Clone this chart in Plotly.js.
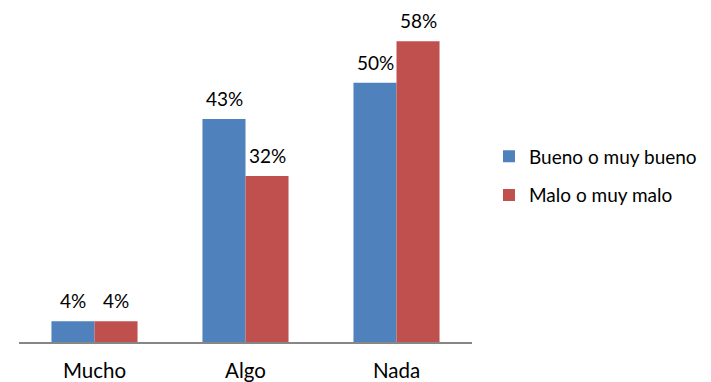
<!DOCTYPE html>
<html>
<head>
<meta charset="utf-8">
<script src="https://cdn.plot.ly/plotly-3.0.1.min.js"></script>
<style>html,body{margin:0;padding:0;background:#fff;}#chart{width:711px;height:382px;}</style>
</head>
<body>
<div id="chart"></div>
<script>
const categories = ["Mucho", "Algo", "Nada"];
const seriesNames = ["Bueno o muy bueno", "Malo o muy malo"];
const bueno = [4, 43, 50];
const malo = [4, 32, 58];
const colors = ["#4F81BD", "#C0504D"];
const FONT = "Lato, 'Open Sans', sans-serif";

const traces = [bueno, malo].map((vals, i) => ({
  type: "bar",
  x: categories,
  y: vals,
  name: seriesNames[i],
  marker: {color: colors[i]},
  legendgroup: "g" + i,
  hoverinfo: "none"
}));

const annotations = [];
[bueno, malo].forEach((vals, i) => {
  vals.forEach((v, j) => {
    annotations.push({
      x: categories[j], y: v, xref: "x", yref: "y",
      text: v + "%", showarrow: false,
      xanchor: "center", yanchor: "bottom",
      xshift: i === 0 ? -21.5 : 21.5, yshift: 7,
      font: {family: FONT, size: 19, color: "#000"}
    });
  });
});

const layout = {
  width: 711, height: 382,
  margin: {l: 19, r: 239, t: 10, b: 40, autoexpand: false},
  paper_bgcolor: "#fff", plot_bgcolor: "#fff",
  barmode: "group", bargap: 0.43, bargroupgap: 0,
  font: {family: FONT, size: 19, color: "#000"},
  xaxis: {
    showgrid: false, zeroline: false, showline: true,
    linecolor: "#868686", linewidth: 1.5, ticks: "",
    ticklabelstandoff: 10, automargin: false,
    tickfont: {family: FONT, size: 20.5, color: "#000"}
  },
  yaxis: {
    range: [0, 64], visible: false, showgrid: false, zeroline: false
  },
  showlegend: true,
  legend: {
    x: 1.0375, xanchor: "left", y: 0.5, yanchor: "middle",
    font: {family: FONT, size: 19, color: "#000"},
    traceorder: "grouped", tracegroupgap: 11,
    itemwidth: 30
  },
  annotations: annotations
};

Plotly.newPlot("chart", traces, layout, {displayModeBar: false, staticPlot: true});
</script>
</body>
</html>
